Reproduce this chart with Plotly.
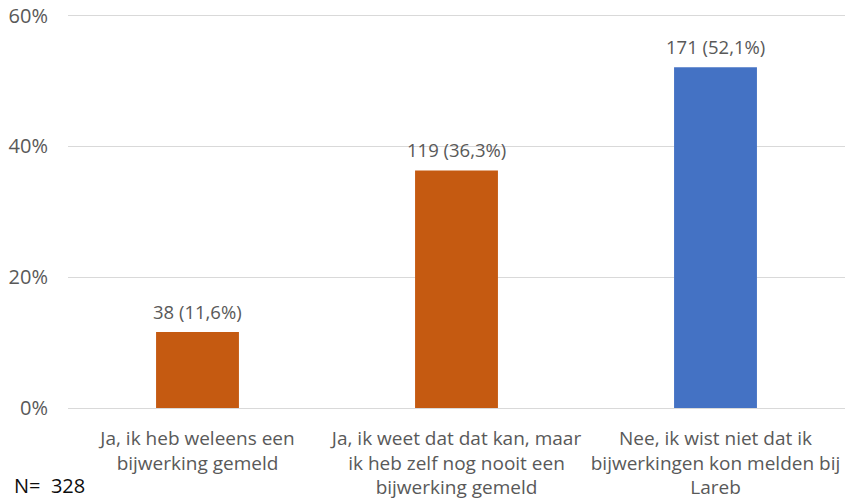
import plotly.graph_objects as go

categories = [
    "Ja, ik heb weleens een<br>bijwerking gemeld",
    "Ja, ik weet dat dat kan, maar<br>ik heb zelf nog nooit een<br>bijwerking gemeld",
    "Nee, ik wist niet dat ik<br>bijwerkingen kon melden bij<br>Lareb",
]
counts = [38, 119, 171]
percentages = [11.6, 36.3, 52.1]
pct_labels = ["11,6%", "36,3%", "52,1%"]
colors = ["#C55A11", "#C55A11", "#4472C4"]
y_ticks = [0, 20, 40, 60]
y_tick_labels = ["0%", "20%", "40%", "60%"]
n_total = 328

labels = [f"{c} ({p})" for c, p in zip(counts, pct_labels)]

FONT = "Open Sans, Lato, Liberation Sans, sans-serif"
GRAY = "#595959"

W, H = 845, 503
Y_MAX = 61
plot_h = 392 * Y_MAX / 60
M_L, M_R, M_B = 68, 0, 95
M_T = H - M_B - plot_h

fig = go.Figure(go.Bar(
    x=categories,
    y=percentages,
    marker=dict(color=colors, line=dict(width=0)),
    width=0.32,
    hoverinfo="skip",
))

value_annotations = [
    dict(
        x=cat, y=val, xref="x", yref="y", text=lab,
        showarrow=False, yanchor="middle", yshift=21,
        font=dict(family=FONT, size=18.5, color=GRAY),
    )
    for cat, val, lab in zip(categories, percentages, labels)
]

fig.update_layout(
    width=W, height=H,
    margin=dict(l=M_L, r=M_R, t=M_T, b=M_B, autoexpand=False),
    paper_bgcolor="white", plot_bgcolor="white",
    font=dict(family=FONT, size=19, color=GRAY),
    showlegend=False,
    xaxis=dict(
        showline=False, showgrid=False, ticks="",
        tickfont=dict(size=19, color=GRAY),
        ticklabelstandoff=17,
        automargin=False,
    ),
    yaxis=dict(
        range=[0, Y_MAX],
        tickvals=y_ticks, ticktext=y_tick_labels,
        showgrid=True, gridcolor="#D9D9D9", gridwidth=1,
        zeroline=True, zerolinecolor="#D9D9D9", zerolinewidth=1,
        showline=False, ticks="",
        tickfont=dict(size=20, color=GRAY),
        ticklabelstandoff=19,
        automargin=False,
    ),
    annotations=value_annotations + [dict(
        text=f"N=  {n_total}", x=(12 - M_L) / (W - M_L - M_R),
        y=-(501 - (H - M_B)) / plot_h,
        xref="paper", yref="paper",
        xanchor="left", yanchor="bottom", showarrow=False,
        font=dict(family=FONT, size=20, color="#0d0d0d"),
    )],
)

fig.write_html(
    "out.html",
    config={"displayModeBar": False},
    post_script="document.body.style.margin='0';",
)
